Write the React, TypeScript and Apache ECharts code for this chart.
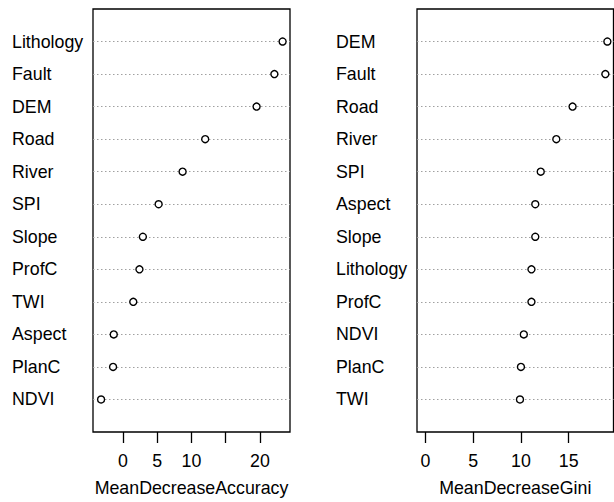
import React, { useEffect, useRef } from "react";
import * as echarts from "echarts";

// Rows listed bottom-to-top (row 1 = bottom)
const accuracyNames = ["NDVI", "PlanC", "Aspect", "TWI", "ProfC", "Slope", "SPI", "River", "Road", "DEM", "Fault", "Lithology"];
const accuracyValues = [-3.2, -1.45, -1.35, 1.5, 2.4, 2.9, 5.2, 8.7, 12.0, 19.5, 22.1, 23.3];

const giniNames = ["TWI", "PlanC", "NDVI", "ProfC", "Lithology", "Slope", "Aspect", "SPI", "River", "Road", "Fault", "DEM"];
const giniValues = [9.9, 10.0, 10.3, 11.1, 11.1, 11.5, 11.5, 12.07, 13.7, 15.4, 18.83, 19.04];

const accuracyTicks = [0, 5, 10, 15, 20];
const accuracyTickLabels = [0, 5, 10, 20];
const giniTicks = [0, 5, 10, 15];
const rowIndex = [1, 2, 3, 4, 5, 6, 7, 8, 9, 10, 11, 12];

const FONT = "Liberation Sans, Arial, sans-serif";
const FS = 17.8;

export default function App() {
  const ref = useRef<HTMLDivElement>(null);
  useEffect(() => {
    if (!ref.current) return;
    const chart = echarts.init(ref.current, null, { renderer: "svg" });
    const gridTop = 9;
    const gridHeight = 425.5;

    const makeX = (gi: number, min: number, max: number, ticks: number[], labels: number[], name: string) => ({
      type: "value",
      gridIndex: gi,
      min,
      max,
      axisLine: { show: false },
      splitLine: { show: false },
      axisTick: { show: true, length: 11, customValues: ticks, lineStyle: { color: "#000", width: 1.3 } },
      axisLabel: { customValues: labels, fontSize: FS, fontFamily: FONT, color: "#000", margin: 20 },
      name,
      nameLocation: "middle",
      nameGap: 47,
      nameTextStyle: { fontSize: FS, fontFamily: FONT, color: "#000" },
    });

    const makeY = (gi: number, names: string[]) => ({
      type: "value",
      gridIndex: gi,
      min: 0,
      max: 13,
      axisLine: { show: false },
      axisTick: { show: false },
      splitLine: { show: false },
      axisLabel: {
        customValues: rowIndex,
        formatter: (v: number) => names[v - 1] ?? "",
        align: "left",
        margin: 81,
        fontSize: FS,
        fontFamily: FONT,
        color: "#000",
      },
    });

    const makeSeries = (gi: number, values: number[]) => ({
      type: "scatter",
      xAxisIndex: gi,
      yAxisIndex: gi,
      symbol: "circle",
      symbolSize: 7,
      itemStyle: { color: "#fff", borderColor: "#000", borderWidth: 1.4, opacity: 1 },
      data: values.map((v, i) => [v, rowIndex[i]]),
      z: 3,
      markLine: {
        silent: true,
        symbol: ["none", "none"],
        label: { show: false },
        lineStyle: { type: [1.5, 2.5], color: "#a0a0a0", width: 1 },
        data: rowIndex.map((r) => ({ yAxis: r })),
        z: 1,
      },
    });

    chart.setOption({
      animation: false,
      backgroundColor: "#fff",
      grid: [
        { left: 93, top: gridTop, width: 197, height: gridHeight, show: true, borderColor: "#000", borderWidth: 1.3, backgroundColor: "transparent" },
        { left: 417, top: gridTop, width: 196.5, height: gridHeight, show: true, borderColor: "#000", borderWidth: 1.3, backgroundColor: "transparent" },
      ],
      xAxis: [
        makeX(0, -4.38, 24.38, accuracyTicks, accuracyTickLabels, "MeanDecreaseAccuracy"),
        makeX(1, -0.87, 19.68, giniTicks, giniTicks, "MeanDecreaseGini"),
      ],
      yAxis: [makeY(0, accuracyNames), makeY(1, giniNames)],
      series: [makeSeries(0, accuracyValues), makeSeries(1, giniValues)],
    });
    return () => chart.dispose();
  }, []);
  return <div ref={ref} style={{ position: "fixed", left: 0, top: 0, width: 614, height: 502 }} />;
}
